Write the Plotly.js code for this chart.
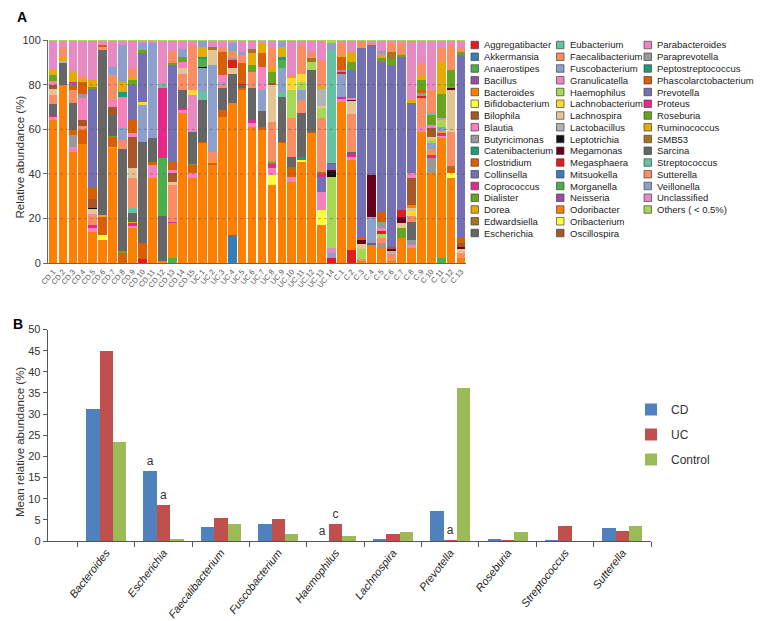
<!DOCTYPE html>
<html><head><meta charset="utf-8">
<script src="https://cdn.plot.ly/plotly-3.0.1.min.js"></script>
<style>html,body{margin:0;padding:0;background:#fff}#chart{width:768px;height:621px}</style>
</head><body><div id="chart"></div>
<script>
// ---------- Panel A data ----------
const genera = ['Aggregatibacter','Akkermansia','Anaerostipes','Bacillus','Bacteroides','Bifidobacterium','Bilophila','Blautia','Butyricimonas',
 'Catenibacterium','Clostridium','Collinsella','Coprococcus','Dialister','Dorea','Edwardsiella','Escherichia',
 'Eubacterium','Faecalibacterium','Fuscobacterium','Granulicatella','Haemophilus','Lachnobacterium','Lachnospira','Lactobacillus',
 'Leptotrichia','Megamonas',
 'Megasphaera','Mitsuokella','Morganella','Neisseria','Odoribacter','Oribacterium','Oscillospira','Parabacteroides','Paraprevotella',
 'Peptostreptococcus','Phascolarctobacterium','Prevotella','Proteus','Roseburia','Ruminococcus','SMB53','Sarcina',
 'Streptococcus','Sutterella','Veillonella','Unclassified','Others ( < 0.5%)'];
const generaColors = ['#E41A1C','#377EB8','#4DAF4A','#984EA3','#FF7F00','#FFFF33','#A65628','#F781BF','#999999',
 '#1B9E77','#D95F02','#7570B3','#E7298A','#66A61E','#E6AB02','#A6761D','#666666',
 '#66C2A5','#FC8D62','#8DA0CB','#E78AC3','#A6D854','#FFD92F','#E5C494','#B3B3B3',
 '#111111','#67001F',
 '#E41A1C','#377EB8','#4DAF4A','#984EA3','#FF7F00','#FFFF33','#A65628','#F781BF','#999999',
 '#1B9E77','#D95F02','#7570B3','#E7298A','#66A61E','#E6AB02','#A6761D','#666666',
 '#66C2A5','#FC8D62','#8DA0CB','#E78AC3','#A6D854'];
const sampleLabels = ['CD.1','CD.2','CD.3','CD.4','CD.5','CD.6','CD.7','CD.8','CD.9','CD.10','CD.11','CD.12','CD.13','CD.14','CD.15',
 'UC.1','UC.2','UC.3','UC.4','UC.5','UC.6','UC.7','UC.8','UC.9','UC.10','UC.11','UC.12','UC.13','UC.14',
 'C.1','C.2','C.3','C.4','C.5','C.6','C.7','C.8','C.9','C.10','C.11','C.12','C.13'];
const OTH = 'Others ( < 0.5%)';
// relative abundance (%) of each sample, [genus, value]
const CD1 = [['Bacteroides',64],['Blautia',1.3],['Coprococcus',0.7],['Escherichia',5.3],['Faecalibacterium',4.1],['Lachnospira',2.6],['Oscillospira',2],['Parabacteroides',1.5],['Roseburia',3],['Ruminococcus',2.5],['Unclassified',12.5],[OTH,0.5]];
const CD2 = [['Bacteroides',80],['Escherichia',9.7],['Lactobacillus',1],['Ruminococcus',1.3],['Sutterella',5],['Unclassified',2.5],[OTH,0.5]];
const CD3 = [['Bacteroides',50],['Blautia',2],['Butyricimonas',5.5],['Clostridium',2.2],['Escherichia',12],['Faecalibacterium',5.9],['Phascolarctobacterium',2.3],['Prevotella',0.7],['Proteus',0.6],['Ruminococcus',5],['Unclassified',13.3],[OTH,0.5]];
const CD4 = [['Bacteroides',53.5],['Clostridium',6],['Faecalibacterium',2],['Oscillospira',2.5],['Parabacteroides',10],['Paraprevotella',2],['Phascolarctobacterium',5],['Ruminococcus',1],['Sutterella',2],['Unclassified',15.5],[OTH,0.5]];
const CD5 = [['Bacteroides',14],['Blautia',2],['Coprococcus',1],['Faecalibacterium',4],['Granulicatella',1],['Lachnospira',2.3],['Leptotrichia',0.4],['Oscillospira',4.3],['Phascolarctobacterium',4.5],['Prevotella',44.5],['Roseburia',1],['Ruminococcus',3],['Unclassified',17.5],[OTH,0.5]];
const CD6 = [['Bacteroides',10.4],['Bifidobacterium',2.3],['Clostridium',8.2],['Dorea',0.7],['Escherichia',73.9],['Faecalibacterium',1.2],['Phascolarctobacterium',1],['Unclassified',1.8],[OTH,0.5]];
const CD7 = [['Bacteroides',51.5],['Blautia',0.7],['Clostridium',4.5],['Dialister',0.5],['Escherichia',9.2],['Oscillospira',3.7],['Parabacteroides',3],['Sutterella',11.2],['Veillonella',3.7],['Unclassified',11.5],[OTH,0.5]];
const CD8 = [['Clostridium',4.5],['Dialister',1],['Escherichia',45.5],['Faecalibacterium',4],['Fuscobacterium',5.5],['Granulicatella',0.8],['Parabacteroides',13],['Peptostreptococcus',2.5],['Ruminococcus',4.5],['Veillonella',16.5],['Unclassified',1.7],[OTH,0.5]];
const CD9 = [['Bacteroides',15.7],['Blautia',1.2],['Coprococcus',1],['Dorea',0.6],['Escherichia',3.9],['Eubacterium',2.2],['Faecalibacterium',13.4],['Lachnospira',4.5],['Oscillospira',14.2],['Parabacteroides',1.5],['Phascolarctobacterium',6],['Prevotella',15.7],['Roseburia',2],['Ruminococcus',1.5],['Sutterella',3.9],['Unclassified',12.2],[OTH,0.5]];
const CD10 = [['Aggregatibacter',2],['Clostridium',7],['Escherichia',45.5],['Fuscobacterium',16.4],['Lachnobacterium',1.5],['Prevotella',21.6],['Roseburia',1.5],['Veillonella',3],['Unclassified',1],[OTH,0.5]];
const CD11 = [['Bacteroides',38],['Blautia',6],['Clostridium',1.5],['Escherichia',10.5],['Fuscobacterium',42.5],['Unclassified',1],[OTH,0.5]];
const CD12 = [['Bacteroides',1],['Escherichia',20],['Morganella',26],['Proteus',31.4],['Streptococcus',2],['Unclassified',19.1],[OTH,0.5]];
const CD13 = [['Anaerostipes',2.2],['Bacteroides',15.7],['Coprococcus',0.7],['Faecalibacterium',16.4],['Lachnospira',1.6],['Oscillospira',3.7],['Parabacteroides',1.5],['Phascolarctobacterium',3.7],['Prevotella',43.3],['Roseburia',0.7],['Sutterella',5.5],['Unclassified',4.5],[OTH,0.5]];
const CD14 = [['Bacteroides',67.2],['Blautia',1.5],['Coprococcus',1],['Escherichia',8],['Faecalibacterium',7.3],['Lachnospira',2.5],['Parabacteroides',2.5],['Roseburia',2.5],['Veillonella',3.5],['Unclassified',3.5],[OTH,0.5]];
const CD15 = [['Bacteroides',38],['Blautia',2.3],['Clostridium',3.7],['Dialister',0.5],['Escherichia',14.5],['Granulicatella',16.4],['Lachnobacterium',2.2],['Sutterella',20.2],['Unclassified',1.7],[OTH,0.5]];
const UC1 = [['Bacteroides',53.7],['Clostridium',0.7],['Escherichia',18.7],['Eubacterium',3.8],['Fuscobacterium',10.4],['Leptotrichia',0.5],['Morganella',3.8],['Peptostreptococcus',0.9],['Ruminococcus',4.5],['Veillonella',2.5],[OTH,0.5]];
const UC2 = [['Bacteroides',44],['Clostridium',0.8],['Dorea',0.7],['Faecalibacterium',4.5],['Fuscobacterium',38.8],['Lachnospira',6.7],['SMB53',1.5],['Unclassified',2.5],[OTH,0.5]];
const UC3 = [['Bacteroides',65.7],['Clostridium',3],['Escherichia',9.7],['Faecalibacterium',1.5],['Fuscobacterium',1],['Parabacteroides',3.6],['Phascolarctobacterium',10],['Sutterella',2.5],['Unclassified',2.5],[OTH,0.5]];
const UC4 = [['Akkermansia',12.7],['Bacteroides',58.9],['Escherichia',13.4],['Lachnospira',2.5],['Megasphaera',3.5],['Paraprevotella',1],['Sutterella',3],['Veillonella',3.5],['Unclassified',1],[OTH,0.5]];
const UC5 = [['Bacteroides',77.6],['Clostridium',0.9],['Escherichia',1.5],['Megasphaera',0.5],['Phascolarctobacterium',9],['Sutterella',4],['Veillonella',1],['Unclassified',5],[OTH,0.5]];
const UC6 = [['Bacteroides',61.2],['Blautia',1.5],['Coprococcus',1.3],['Escherichia',14.4],['Faecalibacterium',7.4],['Roseburia',3],['Ruminococcus',5.5],['SMB53',1.5],['Unclassified',3.7],[OTH,0.5]];
const UC7 = [['Bacteroides',59.7],['Clostridium',1.5],['Escherichia',7],['Fuscobacterium',9.4],['Parabacteroides',10.4],['Phascolarctobacterium',6],['Ruminococcus',4],['Unclassified',1.5],[OTH,0.5]];
const UC8 = [['Bacteroides',35],['Bifidobacterium',4.6],['Blautia',3],['Coprococcus',2],['Dialister',0.7],['Faecalibacterium',18],['Lachnospira',16.5],['Oscillospira',0.8],['Roseburia',5],['Ruminococcus',2.4],['Sutterella',8.3],['Unclassified',3.2],[OTH,0.5]];
const UC9 = [['Bacteroides',53.7],['Clostridium',0.8],['Escherichia',20.1],['Eubacterium',2.3],['Fuscobacterium',10.4],['Morganella',3.7],['Peptostreptococcus',1.5],['Ruminococcus',4.5],['Veillonella',2.5],[OTH,0.5]];
const UC10 = [['Bacteroides',36.6],['Blautia',2.2],['Clostridium',4.5],['Escherichia',4.5],['Faecalibacterium',17.2],['Haemophilus',12.6],['Lachnobacterium',5.2],['Sutterella',1.5],['Unclassified',15.2],[OTH,0.5]];
const UC11 = [['Bacteroides',45.5],['Bifidobacterium',0.8],['Catenibacterium',1.2],['Escherichia',19.7],['Faecalibacterium',6],['Fuscobacterium',4.4],['Haemophilus',3.7],['Lachnobacterium',3.7],['Sutterella',12.8],['Unclassified',1.7],[OTH,0.5]];
const UC12 = [['Bacteroides',58.2],['Clostridium',0.5],['Escherichia',27.9],['Haemophilus',3.7],['SMB53',1.5],['Sutterella',3],['Unclassified',4.7],[OTH,0.5]];
const UC13 = [['Bacteroides',17],['Bifidobacterium',6.9],['Blautia',8.2],['Collinsella',6.5],['Coprococcus',1.5],['Edwardsiella',0.8],['Faecalibacterium',24],['Haemophilus',4.5],['Lachnospira',1],['Lactobacillus',7.5],['Ruminococcus',1],['Sutterella',12],['Unclassified',8.6],[OTH,0.5]];
const UC14 = [['Aggregatibacter',2.2],['Fuscobacterium',2.3],['Granulicatella',2.2],['Haemophilus',32.1],['Leptotrichia',2.2],['Megamonas',0.8],['Prevotella',2.5],['Proteus',0.5],['Streptococcus',50.7],['Veillonella',3],[OTH,1.5]];
const C1 = [['Bacteroides',72.4],['Blautia',1],['Coprococcus',1.2],['Fuscobacterium',10.4],['Megasphaera',0.8],['Paraprevotella',0.8],['Phascolarctobacterium',5.9],['Ruminococcus',0.5],['Sutterella',5.5],['Unclassified',1],[OTH,0.5]];
const C2 = [['Aggregatibacter',6],['Bacteroides',40.3],['Blautia',1.5],['Coprococcus',1.2],['Escherichia',1],['Faecalibacterium',17],['Lachnospira',5.5],['Megamonas',0.6],['Parabacteroides',1],['Prevotella',12.5],['Roseburia',3.7],['Ruminococcus',4.5],['Unclassified',4.7],[OTH,0.5]];
const C3 = [['Bacteroides',1],['Faecalibacterium',1],['Haemophilus',4.5],['Lachnospira',2],['Megamonas',2],['Phascolarctobacterium',1.5],['Prevotella',84.5],['Ruminococcus',0.5],['Sutterella',2.5],[OTH,0.5]];
const C4 = [['Bacteroides',8.2],['Escherichia',0.7],['Fuscobacterium',12],['Megamonas',18.7],['Prevotella',58.2],['Sutterella',0.7],['Unclassified',1],[OTH,0.5]];
const C5 = [['Bacteroides',7.5],['Butyricimonas',1.5],['Faecalibacterium',2.5],['Haemophilus',1.5],['Megasphaera',1.5],['Parabacteroides',1.5],['Paraprevotella',2.7],['Phascolarctobacterium',4.4],['Prevotella',67.2],['Roseburia',1.5],['Sutterella',2],['Veillonella',1.5],['Unclassified',4.2],[OTH,0.5]];
const C6 = [['Bacteroides',1],['Faecalibacterium',3],['Lactobacillus',1.5],['Megamonas',1],['Oscillospira',1],['Prevotella',81.3],['Roseburia',2.5],['SMB53',3.5],['Sutterella',4],['Unclassified',0.7],[OTH,0.5]];
const C7 = [['Bacteroides',11.5],['Dialister',4.5],['Lachnospira',2.2],['Megamonas',2.5],['Megasphaera',3.2],['Prevotella',68.5],['Roseburia',0.8],['Sutterella',5],['Unclassified',1.3],[OTH,0.5]];
const C8 = [['Bacteroides',6.7],['Blautia',1.5],['Butyricimonas',2.2],['Escherichia',8.3],['Faecalibacterium',2.5],['Lachnobacterium',2],['Lachnospira',1.5],['Odoribacter',1.5],['Oscillospira',11.8],['Parabacteroides',2.3],['Prevotella',31.3],['Ruminococcus',1.5],['Unclassified',26.4],[OTH,0.5]];
const C9 = [['Bacteroides',59],['Blautia',2.2],['Faecalibacterium',12.7],['Megasphaera',1.2],['Paraprevotella',1.3],['Phascolarctobacterium',1],['Roseburia',4.5],['Ruminococcus',2],['Sutterella',5.7],['Unclassified',9.9],[OTH,0.5]];
const C10 = [['Bacteroides',40.3],['Butyricimonas',7],['Coprococcus',1],['Dorea',1],['Faecalibacterium',2],['Fuscobacterium',2.5],['Haemophilus',1.5],['Lachnospira',1.4],['Oscillospira',3.7],['Parabacteroides',1.5],['Roseburia',4.5],['Streptococcus',1],['Sutterella',10.2],['Unclassified',21.9],[OTH,0.5]];
const C11 = [['Anaerostipes',2.2],['Bacteroides',54],['Blautia',1],['Coprococcus',1],['Dorea',1],['Fuscobacterium',2],['Haemophilus',3],['Parabacteroides',1],['Roseburia',10.4],['Ruminococcus',14.7],['Sutterella',6],['Unclassified',3.2],[OTH,0.5]];
const C12 = [['Bacteroides',38],['Bifidobacterium',2.3],['Clostridium',2.2],['Edwardsiella',1],['Faecalibacterium',15.5],['Lachnospira',18.6],['Megamonas',1],['Roseburia',8],['Sutterella',11.2],['Unclassified',1.7],[OTH,0.5]];
const C13 = [['Bacteroides',2.5],['Faecalibacterium',2],['Lachnospira',2],['Megamonas',1],['Oscillospira',1.5],['Phascolarctobacterium',2.2],['Prevotella',82.1],['Roseburia',1.5],['Sutterella',2.2],['Unclassified',2.5],[OTH,0.5]];
const sampleCompositions = [CD1,CD2,CD3,CD4,CD5,CD6,CD7,CD8,CD9,CD10,CD11,CD12,CD13,CD14,CD15,
 UC1,UC2,UC3,UC4,UC5,UC6,UC7,UC8,UC9,UC10,UC11,UC12,UC13,UC14,
 C1,C2,C3,C4,C5,C6,C7,C8,C9,C10,C11,C12,C13];

// ---------- Panel B data ----------
const genusB = ['Bacteroides','Escherichia','Faecalibacterium','Fuscobacterium','Haemophilus','Lachnospira','Prevotella','Roseburia','Streptococcus','Sutterella'];
const groupNames = ['CD','UC','Control'];
const cdMean = [31.2,16.6,3.2,4.1,0.05,0.5,7.1,0.4,0.2,3.0];
const ucMean = [44.9,8.6,5.5,5.3,4.1,1.6,0.2,0.2,3.5,2.4];
const controlMean = [23.4,0.4,4.1,1.6,1.1,2.2,36.2,2.1,0.05,3.5];
const cdSig = ['','a','','','a','','','','',''];
const ucSig = ['','a','','','c','','a','','',''];
const controlSig = ['','','','','','','','','',''];

// ---------- build ----------
const FONT = 'Liberation Sans, Arial, sans-serif';
const traces = genera.map((g, i) => ({
  type: 'bar', name: g, x: sampleLabels,
  y: sampleCompositions.map(c => { const p = c.find(q => q[0] === g); return p ? p[1] : 0; }),
  marker: {color: generaColors[i], line: {width: 0}},
  xaxis: 'x', yaxis: 'y', showlegend: false, hovertemplate: '%{x}: %{y}%<extra>' + g + '</extra>'
}));
const groupColors = ['#4F81BD','#C0504D','#9BBB59'];
const groupMeans = [cdMean, ucMean, controlMean];
const groupSig = [cdSig, ucSig, controlSig];
const barW = 0.2333;
groupNames.forEach((n, k) => {
  traces.push({
    type: 'bar', name: n, x: genusB, y: groupMeans[k], base: 0,
    width: barW, offset: -1.5 * barW + k * barW,
    marker: {color: groupColors[k], line: {width: 0}},
    text: groupSig[k], textposition: 'outside', constraintext: 'none', cliponaxis: false,
    textfont: {size: 12, color: '#333', family: FONT},
    xaxis: 'x2', yaxis: 'y2', legendgroup: n, showlegend: true
  });
});

const W = 768, H = 621;
const px = v => v / W, py = v => 1 - v / H;
const shapes = [];
const annotations = [];
[20,40,60,80].forEach(v => shapes.push({type:'line', xref:'x domain', yref:'y', x0:0, x1:1, y0:v, y1:v,
  line:{color:'rgba(80,80,80,0.45)', width:1, dash:'dot'}, layer:'above'}));
// legend for panel A (three columns)
const colX = [471, 556.5, 644];
genera.forEach((g, i) => {
  const c = i < 17 ? 0 : (i < 34 ? 1 : 2);
  const r = i - 17 * c;
  const cy = 45 + 11.75 * r;
  shapes.push({type:'rect', xref:'paper', yref:'paper', x0:px(colX[c]), x1:px(colX[c]+7.5), y0:py(cy-3.75), y1:py(cy+3.75),
    fillcolor: generaColors[i], line:{color:'#444', width:0.7}});
  annotations.push({xref:'paper', yref:'paper', x:px(colX[c]+11), y:py(cy), xanchor:'left', yanchor:'middle',
    text:g, showarrow:false, font:{size:9.5, color:'#222', family:FONT}});
});
const note = (x, y, text, size, extra) => annotations.push(Object.assign({xref:'paper', yref:'paper', x:px(x), y:py(y),
  xanchor:'center', yanchor:'middle', text, showarrow:false, font:{size, color:'#333', family:FONT}}, extra || {}));
note(22, 17, '<b>A</b>', 14, {font:{size:14, color:'#000', family:FONT}});
note(18, 324, '<b>B</b>', 14, {font:{size:14, color:'#000', family:FONT}});
note(19.5, 157, 'Relative abundance (%)', 11.5, {textangle:-90});
note(20, 442, 'Mean relative abundance (%)', 11.5, {textangle:-90});

const layout = {
  width: W, height: H, margin: {l:0, r:0, t:0, b:0},
  paper_bgcolor: '#fff', plot_bgcolor: 'rgba(0,0,0,0)',
  barmode: 'stack', bargap: 0.12,
  font: {family: FONT, color: '#333'},
  xaxis: {domain:[px(48), px(466)], anchor:'y', type:'category', tickmode:'array', tickvals:sampleLabels, ticktext:sampleLabels,
    tickangle:-50, tickfont:{size:7.5, color:'#555'},
    showline:true, linecolor:'#666', ticks:'', showgrid:false},
  yaxis: {domain:[py(263.3), py(40)], anchor:'x', range:[0,100], tickvals:[0,20,40,60,80,100], ticks:'outside', ticklen:4,
    tickcolor:'#666', showline:true, linecolor:'#666', showgrid:false, zeroline:false, tickfont:{size:11, color:'#333'}},
  xaxis2: {domain:[px(47.7), px(651)], anchor:'y2', type:'category', range:[-1.02, 9.5], tickson:'boundaries',
    ticks:'outside', ticklen:5, tickcolor:'#555', showline:true, linecolor:'#555', tickangle:-52,
    tickfont:{size:11, style:'italic', color:'#222'}, showgrid:false},
  yaxis2: {domain:[py(541), py(329.5)], anchor:'x2', range:[0,50], dtick:5, ticks:'outside', ticklen:4,
    tickcolor:'#555', showline:true, linecolor:'#555', showgrid:false, zeroline:false, tickfont:{size:11, color:'#333'}},
  legend: {x: px(631), y: py(395), xanchor:'left', yanchor:'top', font:{size:12, color:'#333'}, tracegroupgap:6,
    bgcolor:'rgba(0,0,0,0)', traceorder:'grouped'},
  shapes, annotations
};
Plotly.newPlot('chart', traces, layout, {displayModeBar:false, staticPlot:true});
</script>
</body></html>
